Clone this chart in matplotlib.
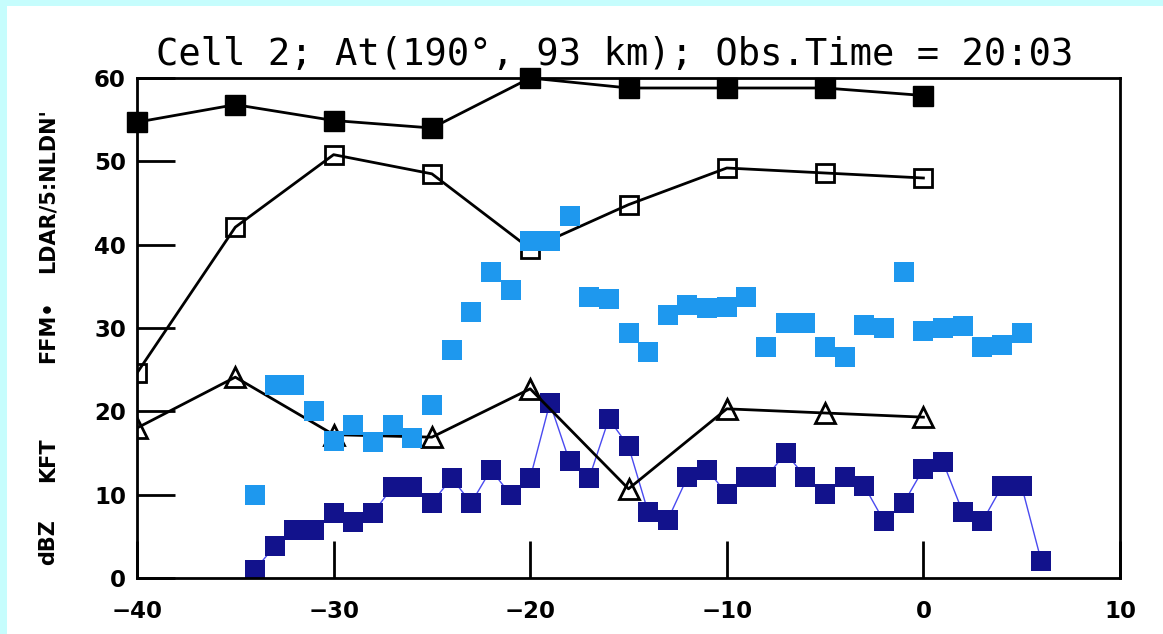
import matplotlib
matplotlib.use("Agg")
import matplotlib.pyplot as plt
from matplotlib.patches import Rectangle

# Time relative to observation (minutes)
t_five = [-40, -35, -30, -25, -20, -15, -10, -5, 0]
ldar = [54.7, 56.8, 54.9, 54.0, 60.0, 58.8, 58.8, 58.8, 57.9]
nldn = [24.6, 42.1, 50.8, 48.5, 39.5, 44.8, 49.2, 48.6, 48.0]
ffm = [18.0, 24.1, 17.2, 16.9, 22.7, 10.7, 20.3, 19.8, 19.3]

# Radar: echo-top height (kft), one value per minute
t_kft = list(range(-34, 6))
kft = [10.0, 23.2, 23.2, 20.0, 16.4, 18.4, 16.3, 18.4, 16.8, 20.8,
       27.4, 31.9, 36.7, 34.6, 40.5, 40.5, 43.5, 33.7, 33.5, 29.4,
       27.1, 31.6, 32.8, 32.4, 32.5, 33.7, 27.7, 30.6, 30.6, 27.7,
       26.5, 30.4, 30.0, 36.7, 29.7, 30.0, 30.3, 27.7, 28.0, 29.4]

# Radar: reflectivity (dBZ), one value per minute
t_dbz = list(range(-34, 7))
dbz = [1.0, 3.8, 5.8, 5.8, 7.8, 6.7, 7.8, 10.9, 10.9, 9.0,
       12.0, 9.0, 13.0, 10.0, 12.0, 21.0, 14.0, 12.0, 19.1, 15.8,
       7.9, 7.0, 12.1, 13.0, 10.1, 12.1, 12.1, 15.0, 12.1, 10.1,
       12.1, 11.0, 6.8, 9.0, 13.1, 13.9, 7.9, 6.8, 11.0, 11.0, 2.0]

x_ticks = [-40, -30, -20, -10, 0, 10]
y_ticks = [0, 10, 20, 30, 40, 50, 60]

W, H = 1163, 634
fig = plt.figure(figsize=(W / 100, H / 100), dpi=100)
fig.patch.set_facecolor("#c6fdfd")
fig.add_artist(Rectangle((7 / W, 0), 1 - 7 / W, 1 - 6 / H,
                         transform=fig.transFigure, facecolor="white",
                         edgecolor="none", zorder=0))

ax = fig.add_axes([137 / W, 1 - 578 / H, (1120 - 137) / W, (578 - 78) / H])
ax.set_facecolor("white")
ax.set_xlim(-40, 10)
ax.set_ylim(0, 60)

msz = 14.2
ax.plot(t_dbz, dbz, color="#4a4af0", lw=1.0, marker="s", ms=msz,
        mfc="#12128c", mec="#12128c", mew=0, zorder=2)
ax.plot(t_five, ldar, color="black", lw=2, marker="s", ms=14,
        mfc="black", mec="black", zorder=3, clip_on=False)
ax.plot(t_five, nldn, color="black", lw=2, marker="s", ms=13.5,
        mfc="none", mec="black", mew=2, zorder=3)
ax.plot(t_five, ffm, color="black", lw=2, marker="^", ms=15,
        mfc="none", mec="black", mew=2, zorder=3)
ax.plot(t_kft, kft, linestyle="none", marker="s", ms=msz,
        mfc="#1e98ee", mec="#1e98ee", mew=0, zorder=4)

ax.set_xticks(x_ticks)
ax.set_yticks(y_ticks)
ax.tick_params(direction="in", length=27, width=2, labelsize=16.5)
ax.tick_params(axis="x", pad=16)
ax.tick_params(axis="y", pad=8)
for lab in ax.get_xticklabels() + ax.get_yticklabels():
    lab.set_fontweight("bold")
for s in ax.spines.values():
    s.set_linewidth(2)

fig.text(615 / W, 1 - 55 / H, "Cell 2; At(190°, 93 km); Obs.Time = 20:03",
         family="DejaVu Sans Mono", fontsize=26.7, ha="center", va="center")

for txt, yc in [("dBZ", 542), ("KFT", 460), ("FFM•", 332), ("LDAR/5:NLDN'", 191)]:
    fig.text(48 / W, 1 - yc / H, txt, rotation=90, ha="center", va="center",
             fontsize=15, fontweight="bold")

fig.savefig("out.png", dpi=100, facecolor=fig.get_facecolor())
